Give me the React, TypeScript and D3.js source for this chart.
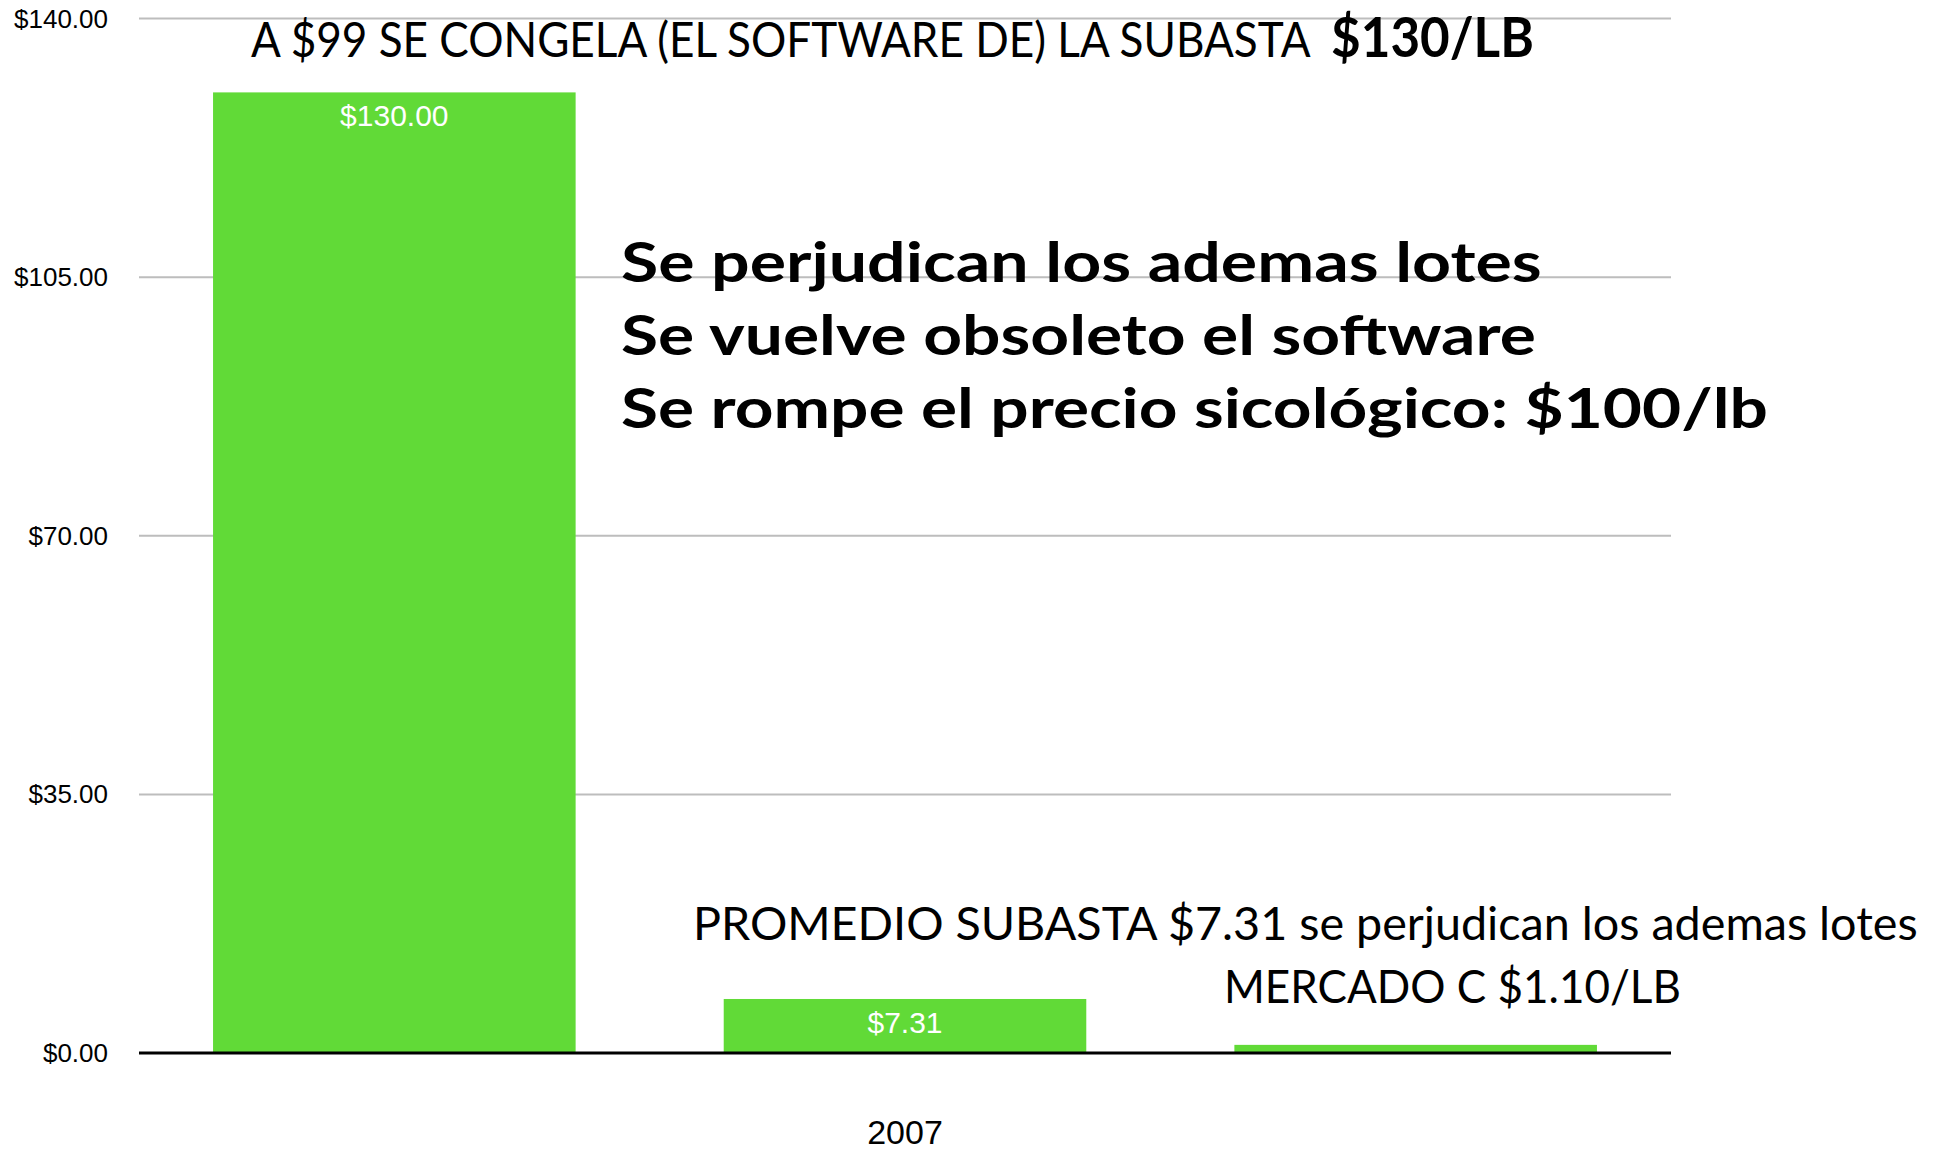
import React, { useLayoutEffect, useRef, useState } from "react";
import * as d3 from "d3";

const categories = ["2007"];
const seriesNames = ["Subasta", "Promedio subasta", "Mercado C"];
const seriesValues = [130.0, 7.31, 1.1];
const valueLabels = ["$130.00", "$7.31", ""];
const yTicks = [0, 35, 70, 105, 140];
const yTickLabels = ["$0.00", "$35.00", "$70.00", "$105.00", "$140.00"];

const titleRegular = "A $99 SE CONGELA (EL SOFTWARE DE) LA SUBASTA";
const titleBold = "$130/LB";
const bigNotes = [
  "Se perjudican los ademas lotes",
  "Se vuelve obsoleto el software",
  "Se rompe el precio sicológico: $100/lb",
];
const lowNote1 = "PROMEDIO SUBASTA $7.31 se perjudican los ademas lotes";
const lowNote2 = "MERCADO C $1.10/LB";

const W = 1947;
const H = 1151;
const left = 139;
const right = 1671;
const top = 18.5;
const bottom = 1053;
const green = "#61da37";
const annFont = "Lato, 'Open Sans', sans-serif";
const axFont = "'Liberation Sans', Arial, Helvetica, sans-serif";

function FitText(props: {
  x: number;
  y: number;
  width: number;
  size: number;
  bold?: boolean;
  children: string;
}) {
  const ref = useRef<SVGTextElement>(null);
  const [sx, setSx] = useState(1);
  useLayoutEffect(() => {
    if (ref.current) {
      const w = ref.current.getComputedTextLength();
      if (w > 0) setSx(props.width / w);
    }
  }, [props.width, props.children]);
  return (
    <g transform={`translate(${props.x},${props.y}) scale(${sx},1)`}>
      <text
        ref={ref}
        x={0}
        y={0}
        fontFamily={annFont}
        fontWeight={props.bold ? "bold" : "normal"}
        fontSize={props.size}
        fill="#000"
      >
        {props.children}
      </text>
    </g>
  );
}

export default function App() {
  const y = d3.scaleLinear().domain([0, 140]).range([bottom, top]);
  const xCat = d3.scaleBand().domain(categories).range([left, right]).padding(0);
  const xSer = d3
    .scaleBand()
    .domain(seriesNames)
    .range([0, xCat.bandwidth()])
    .paddingInner(0.29)
    .paddingOuter(0.145);

  return (
    <svg
      width={W}
      height={H}
      viewBox={`0 0 ${W} ${H}`}
      style={{ position: "absolute", left: 0, top: 0, background: "#fff" }}
    >
      {yTicks.map((t, i) =>
        t === 0 ? null : (
          <line
            key={"g" + i}
            x1={left}
            x2={right}
            y1={y(t)}
            y2={y(t)}
            stroke="#bdbdbd"
            strokeWidth={2}
          />
        )
      )}
      {yTicks.map((t, i) => (
        <text
          key={"yl" + i}
          x={108}
          y={y(t)}
          dy="0.35em"
          textAnchor="end"
          fontFamily={axFont}
          fontSize={26}
          fill="#000"
        >
          {yTickLabels[i]}
        </text>
      ))}
      {categories.map((c) =>
        seriesNames.map((s, i) => {
          const x0 = (xCat(c) as number) + (xSer(s) as number);
          const bw = xSer.bandwidth();
          return (
            <g key={c + s}>
              <rect
                x={x0}
                y={y(seriesValues[i])}
                width={bw}
                height={bottom - y(seriesValues[i])}
                fill={green}
              />
              {valueLabels[i] ? (
                <text
                  x={x0 + bw / 2}
                  y={y(seriesValues[i]) + 34}
                  textAnchor="middle"
                  fontFamily={axFont}
                  fontSize={30}
                  fill="#fff"
                >
                  {valueLabels[i]}
                </text>
              ) : null}
            </g>
          );
        })
      )}
      <line x1={left} x2={right} y1={y(0)} y2={y(0)} stroke="#000" strokeWidth={3} />
      {categories.map((c) => (
        <text
          key={"c" + c}
          x={(xCat(c) as number) + xCat.bandwidth() / 2}
          y={1144}
          textAnchor="middle"
          fontFamily={axFont}
          fontSize={34}
          fill="#000"
        >
          {c}
        </text>
      ))}
      <FitText x={251} y={57} width={1060} size={48}>
        {titleRegular}
      </FitText>
      <FitText x={1331} y={57} width={203} size={56} bold>
        {titleBold}
      </FitText>
      {bigNotes.map((t, i) => (
        <FitText
          key={"bn" + i}
          x={621}
          y={[282, 355, 428][i]}
          width={[921, 915, 1147][i]}
          size={55}
          bold
        >
          {t}
        </FitText>
      ))}
      <FitText x={693} y={940} width={1225} size={46}>
        {lowNote1}
      </FitText>
      <FitText x={1224} y={1003} width={457} size={46}>
        {lowNote2}
      </FitText>
    </svg>
  );
}
